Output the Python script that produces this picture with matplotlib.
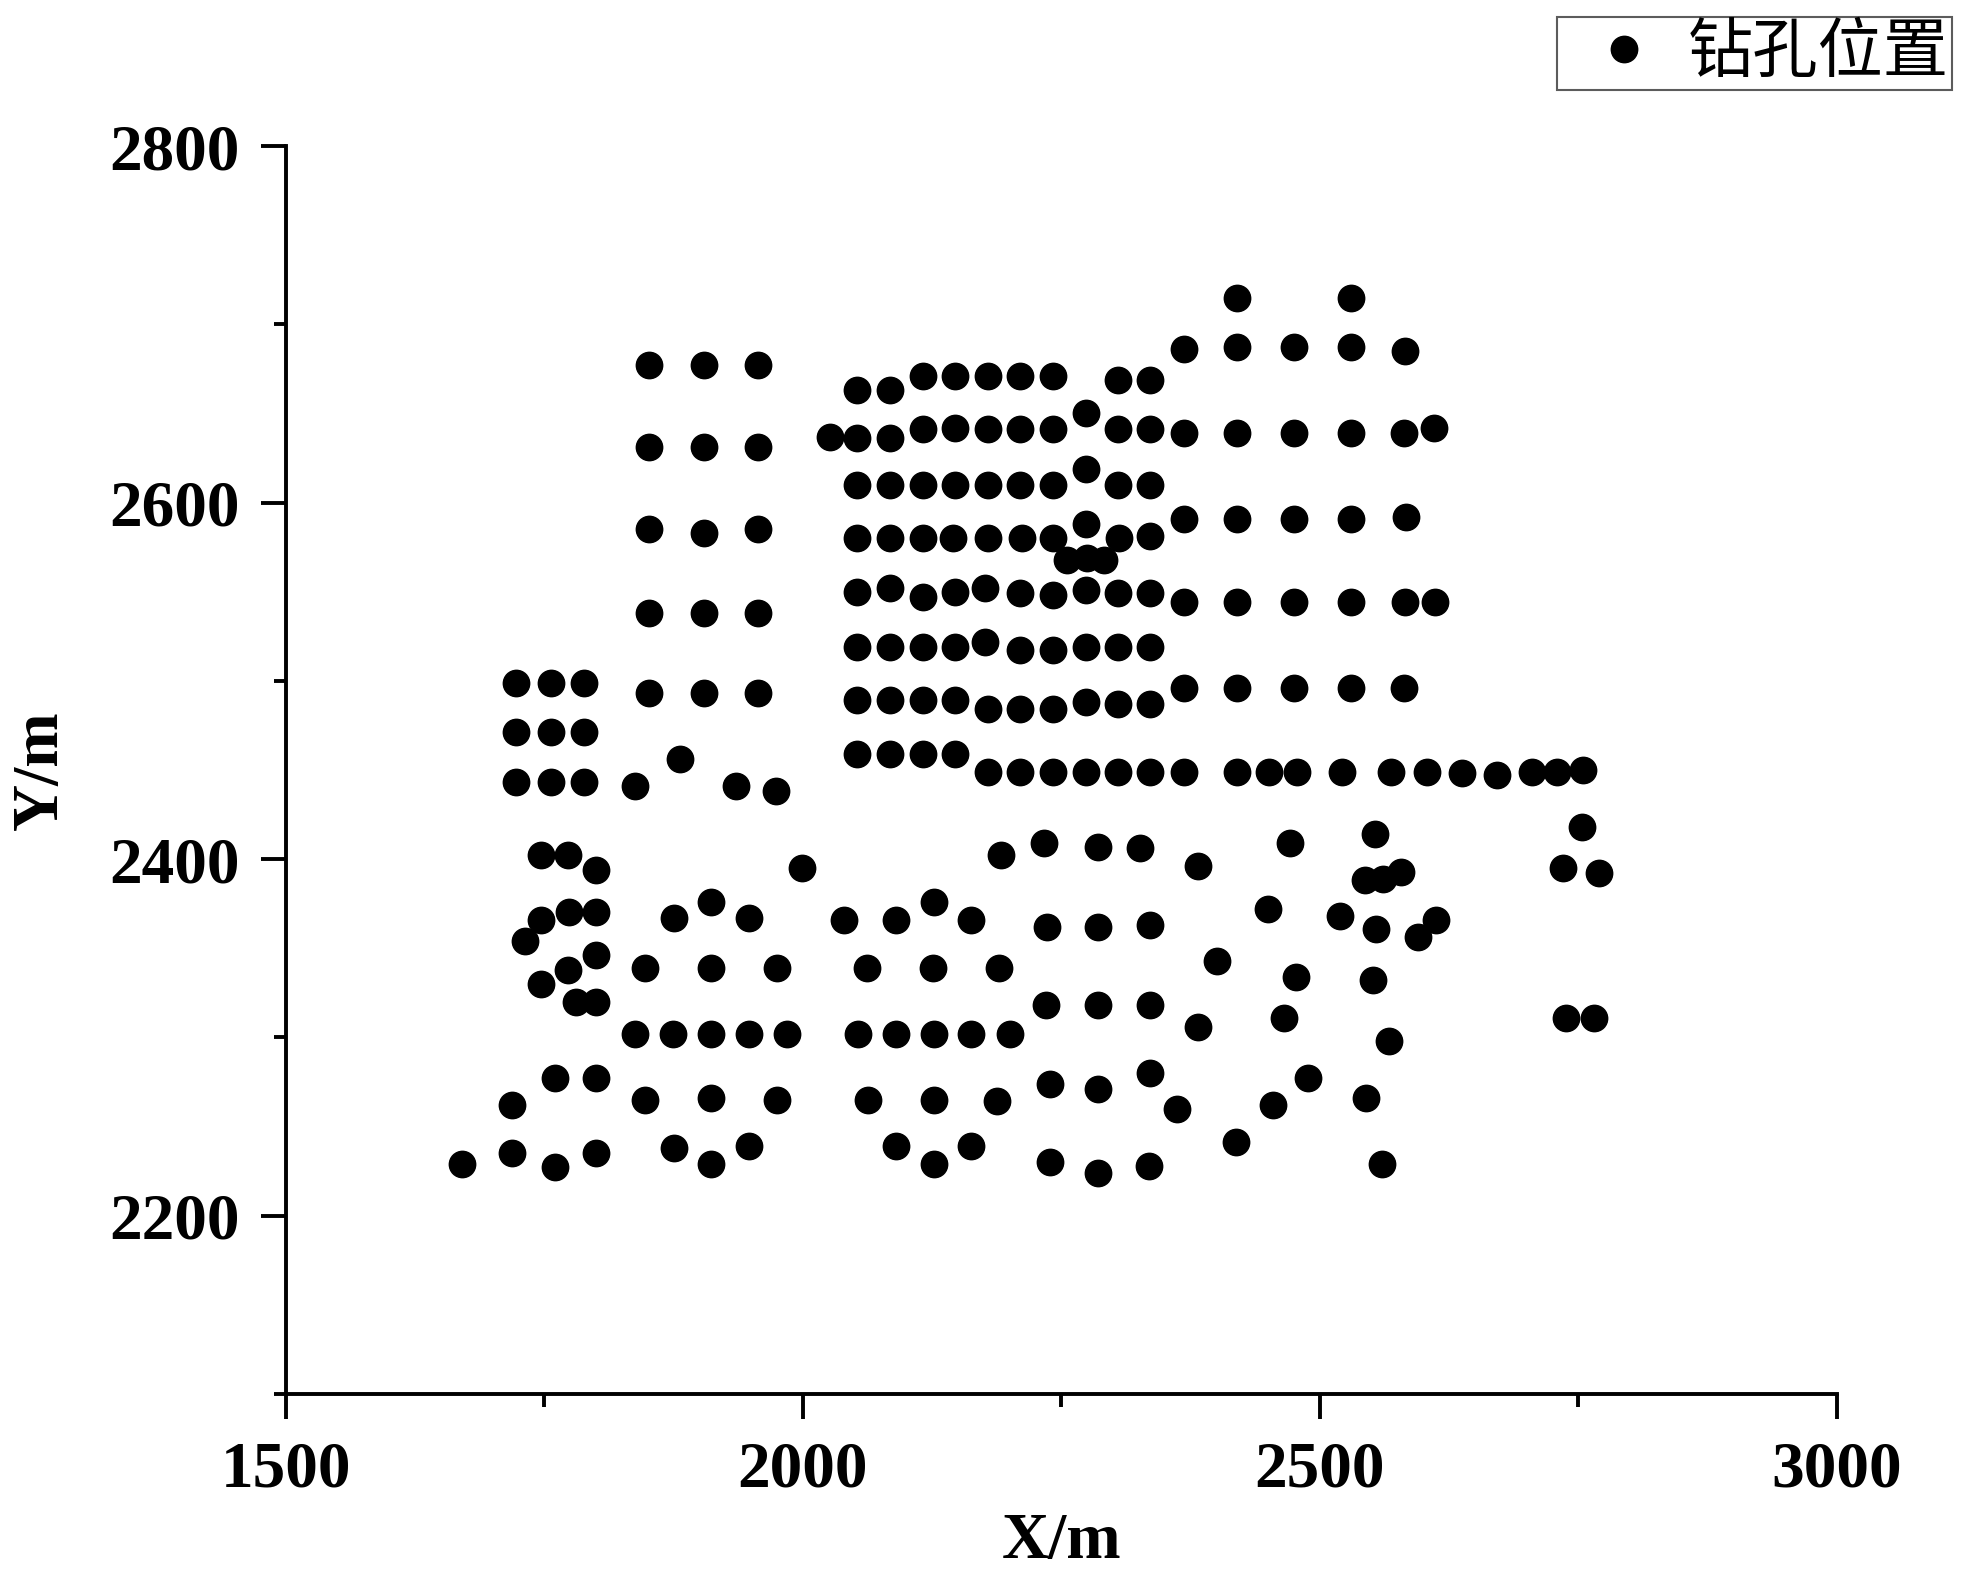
import matplotlib
matplotlib.use("Agg")
import matplotlib.pyplot as plt
from matplotlib.ticker import MultipleLocator

# borehole coordinates (m)
left_x = [1723, 1756, 1788, 1723, 1756, 1788, 1723, 1756, 1788,
          1838, 1881, 1935, 1974, 1999]
left_y = [2499, 2499, 2499, 2471, 2471, 2471, 2443, 2443, 2443,
          2441, 2456, 2441, 2438, 2395]

grid_x = [1851, 1904, 1957, 1851, 1904, 1957, 1851, 1904, 1957,
          1851, 1904, 1957, 1851, 1904, 1957]
grid_y = [2677, 2677, 2677, 2631, 2631, 2631, 2585, 2583, 2585,
          2538, 2538, 2538, 2493, 2493, 2493]

low_left_x = [1747, 1773, 1800, 1747, 1774, 1800, 1731, 1800, 1773, 1747, 1781, 1800,
              1847, 1911, 1975, 1875, 1911, 1948,
              1838, 1874, 1911, 1948, 1985, 1760, 1800, 1719,
              1847, 1911, 1975, 1670, 1719, 1760, 1800, 1875, 1911, 1948]
low_left_y = [2402, 2402, 2394, 2366, 2370, 2370, 2354, 2346, 2338, 2330, 2320, 2320,
              2339, 2339, 2339, 2367, 2376, 2367,
              2302, 2302, 2302, 2302, 2302, 2277, 2277, 2262,
              2265, 2266, 2265, 2229, 2235, 2227, 2235, 2238, 2229, 2239]

block_x = [2052, 2084, 2116, 2147, 2179, 2210, 2242, 2305, 2336, 2369,
           2026, 2052, 2084, 2116, 2147, 2179, 2210, 2242, 2274, 2305, 2336, 2369,
           2052, 2084, 2116, 2147, 2179, 2210, 2242, 2274, 2305, 2336,
           2052, 2084, 2116, 2145, 2179, 2212, 2242, 2274, 2306, 2336, 2369,
           2255, 2275, 2291,
           2052, 2084, 2116, 2147, 2176, 2210, 2242, 2274, 2305, 2336, 2369,
           2052, 2084, 2116, 2147, 2176, 2210, 2242, 2274, 2305, 2336,
           2052, 2084, 2116, 2147, 2179, 2210, 2242, 2274, 2305, 2336, 2369,
           2052, 2084, 2116, 2147, 2179, 2210, 2242, 2274, 2305, 2336, 2369]
block_y = [2663, 2663, 2671, 2671, 2671, 2671, 2671, 2669, 2669, 2686,
           2637, 2636, 2636, 2641, 2642, 2641, 2641, 2641, 2650, 2641, 2641, 2639,
           2610, 2610, 2610, 2610, 2610, 2610, 2610, 2619, 2610, 2610,
           2580, 2580, 2580, 2580, 2580, 2580, 2580, 2588, 2580, 2581, 2591,
           2568, 2569, 2568,
           2550, 2552, 2547, 2550, 2552, 2549, 2548, 2551, 2549, 2549, 2544,
           2519, 2519, 2519, 2519, 2522, 2517, 2517, 2519, 2519, 2519,
           2489, 2489, 2489, 2489, 2484, 2484, 2484, 2488, 2487, 2487, 2496,
           2459, 2459, 2459, 2459, 2449, 2449, 2449, 2449, 2449, 2449, 2449]

right_x = [2420, 2530,
           2420, 2475, 2530, 2582,
           2420, 2475, 2530, 2581, 2610,
           2420, 2475, 2530, 2583,
           2420, 2475, 2530, 2582, 2611,
           2420, 2475, 2530, 2581,
           2420, 2451, 2478, 2521, 2569, 2604, 2637, 2671, 2705, 2729, 2754]
right_y = [2715, 2715,
           2687, 2687, 2687, 2685,
           2639, 2639, 2639, 2639, 2642,
           2591, 2591, 2591, 2592,
           2544, 2544, 2544, 2544, 2544,
           2496, 2496, 2496, 2496,
           2449, 2449, 2449, 2449, 2449, 2449, 2448, 2447, 2449, 2449, 2450]

low_mid_x = [2192, 2233, 2285, 2326, 2382, 2471,
             2040, 2090, 2127, 2163, 2236, 2285, 2336, 2450,
             2062, 2126, 2190, 2400,
             2235, 2285, 2336, 2382, 2465,
             2053, 2090, 2127, 2163, 2200,
             2336, 2239, 2285, 2362, 2455,
             2063, 2127, 2188, 2419,
             2090, 2127, 2163, 2239, 2285, 2335]
low_mid_y = [2402, 2409, 2407, 2406, 2396, 2409,
             2366, 2366, 2376, 2366, 2362, 2362, 2363, 2372,
             2339, 2339, 2339, 2343,
             2318, 2318, 2318, 2306, 2311,
             2302, 2302, 2302, 2302, 2302,
             2280, 2274, 2271, 2260, 2262,
             2265, 2265, 2264, 2241,
             2239, 2229, 2239, 2230, 2224, 2228]

low_right_x = [2753, 2553, 2735, 2770, 2544, 2561, 2578, 2519, 2554, 2612,
               2595, 2477, 2551, 2738, 2765, 2567, 2488, 2545, 2560]
low_right_y = [2418, 2414, 2395, 2392, 2388, 2389, 2393, 2368, 2361, 2366,
               2356, 2334, 2332, 2311, 2311, 2298, 2277, 2266, 2229]

xs = left_x + grid_x + low_left_x + block_x + right_x + low_mid_x + low_right_x
ys = left_y + grid_y + low_left_y + block_y + right_y + low_mid_y + low_right_y

serif = "Liberation Serif"
fs = 47

fig = plt.figure(figsize=(19.74, 15.84), dpi=100)
ax = fig.add_axes([0.1448, 0.1201, 0.7858, 0.7877])

ax.plot(xs, ys, linestyle="none", marker="o", markersize=19,
        color="black", label="钻孔位置")

ax.set_xlim(1500, 3000)
ax.set_ylim(2100, 2800)
ax.xaxis.set_major_locator(MultipleLocator(500))
ax.xaxis.set_minor_locator(MultipleLocator(250))
ax.yaxis.set_major_locator(MultipleLocator(200))
ax.yaxis.set_minor_locator(MultipleLocator(100))

for side in ["top", "right"]:
    ax.spines[side].set_visible(False)
for side in ["left", "bottom"]:
    ax.spines[side].set_linewidth(2.8)

ax.tick_params(which="major", direction="out", length=18, width=2.8)
ax.tick_params(which="minor", direction="out", length=9, width=2.8)
ax.tick_params(axis="x", which="major", pad=16)
ax.tick_params(axis="y", which="major", pad=15)

for lbl in ax.get_xticklabels() + ax.get_yticklabels():
    lbl.set_fontfamily(serif)
    lbl.set_fontweight("bold")
    lbl.set_fontsize(fs)

ax.set_xlabel("X/m", fontfamily=serif, fontweight="bold", fontsize=fs, labelpad=8)
ax.set_ylabel("Y/m", fontfamily=serif, fontweight="bold", fontsize=fs, labelpad=28)

fig.legend(loc="upper right", bbox_to_anchor=(1952 / 1974, 1 - 17 / 1584),
           prop={"family": ["Noto Sans CJK SC", "DejaVu Sans"], "size": fs},
           frameon=True, fancybox=False, edgecolor="#333333",
           borderpad=0.05, handlelength=1.95, handletextpad=0.0,
           borderaxespad=0)
leg = fig.legends[0]
leg.get_frame().set_linewidth(1.5)

fig.savefig("out.png", dpi=100)
